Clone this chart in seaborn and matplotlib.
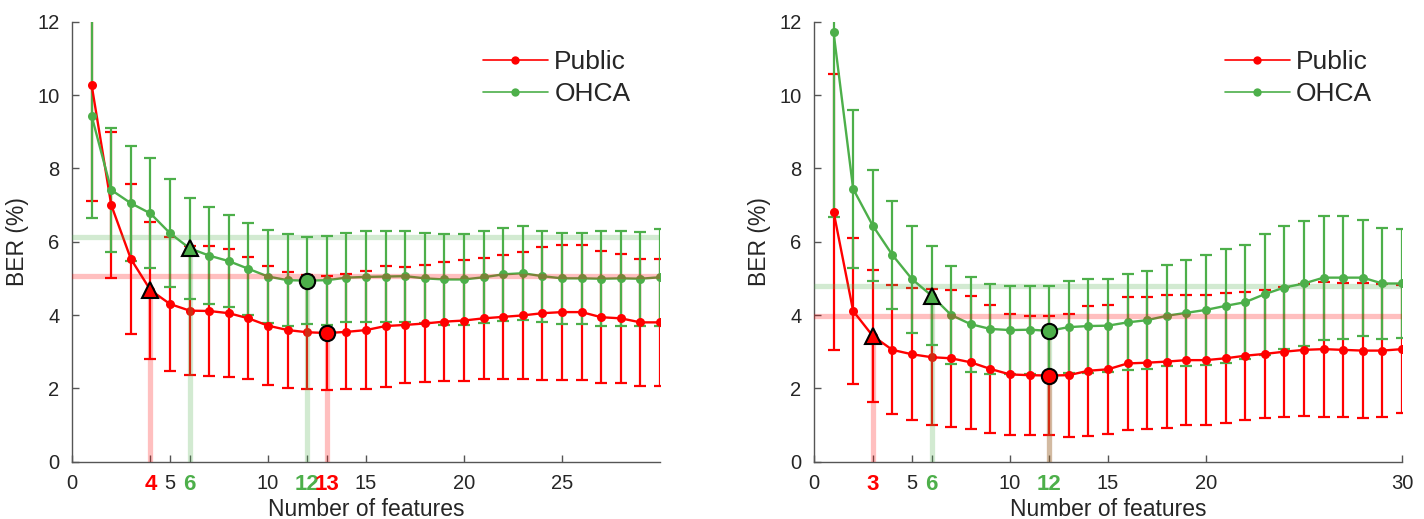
import matplotlib
matplotlib.use("Agg")
import matplotlib.pyplot as plt
from matplotlib.lines import Line2D
import seaborn as sns

# number of features on the x axis
n_features = list(range(1, 31))

# left panel: BER mean and std per number of features
left_public_mean = [10.27, 7.00, 5.53, 4.68, 4.30, 4.12, 4.11, 4.05, 3.91, 3.71,
                    3.59, 3.53, 3.51, 3.54, 3.59, 3.70, 3.73, 3.77, 3.82, 3.85,
                    3.91, 3.95, 3.99, 4.05, 4.08, 4.08, 3.94, 3.91, 3.80, 3.80]
left_public_std = [3.15, 1.98, 2.05, 1.87, 1.83, 1.76, 1.77, 1.74, 1.66, 1.62,
                   1.57, 1.56, 1.55, 1.57, 1.60, 1.65, 1.58, 1.60, 1.63, 1.65,
                   1.65, 1.69, 1.73, 1.81, 1.84, 1.84, 1.80, 1.75, 1.74, 1.74]
left_ohca_mean = [9.43, 7.41, 7.05, 6.77, 6.23, 5.82, 5.62, 5.47, 5.26, 5.05,
                  4.95, 4.94, 4.95, 5.02, 5.04, 5.05, 5.06, 5.00, 4.97, 4.97,
                  5.03, 5.11, 5.14, 5.06, 5.00, 5.00, 4.99, 5.00, 4.99, 5.03]
left_ohca_std = [2.79, 1.68, 1.57, 1.50, 1.47, 1.38, 1.32, 1.26, 1.26, 1.27,
                 1.25, 1.19, 1.21, 1.21, 1.24, 1.24, 1.24, 1.23, 1.25, 1.24,
                 1.26, 1.26, 1.28, 1.24, 1.25, 1.25, 1.30, 1.30, 1.28, 1.32]

# right panel
right_public_mean = [6.82, 4.11, 3.43, 3.05, 2.93, 2.85, 2.82, 2.71, 2.53, 2.38,
                     2.36, 2.35, 2.36, 2.48, 2.52, 2.68, 2.70, 2.73, 2.77, 2.77,
                     2.82, 2.89, 2.94, 3.00, 3.05, 3.07, 3.05, 3.03, 3.03, 3.07]
right_public_std = [3.76, 2.00, 1.80, 1.76, 1.80, 1.85, 1.87, 1.81, 1.74, 1.65,
                    1.62, 1.63, 1.68, 1.77, 1.76, 1.81, 1.80, 1.81, 1.77, 1.77,
                    1.77, 1.74, 1.74, 1.77, 1.80, 1.84, 1.83, 1.84, 1.82, 1.75]
right_ohca_mean = [11.71, 7.44, 6.44, 5.64, 4.98, 4.53, 4.00, 3.75, 3.62, 3.59,
                   3.60, 3.57, 3.67, 3.70, 3.71, 3.80, 3.86, 3.98, 4.06, 4.14,
                   4.25, 4.35, 4.57, 4.75, 4.86, 5.02, 5.02, 5.02, 4.86, 4.86]
right_ohca_std = [5.05, 2.15, 1.52, 1.47, 1.46, 1.35, 1.34, 1.29, 1.23, 1.20,
                  1.20, 1.22, 1.26, 1.27, 1.26, 1.31, 1.34, 1.38, 1.44, 1.51,
                  1.55, 1.56, 1.65, 1.67, 1.70, 1.69, 1.68, 1.58, 1.51, 1.49]

# chosen (triangle) and best (circle) number of features
left_public_sel, left_public_best = 4, 13
left_ohca_sel, left_ohca_best = 6, 12
right_public_sel, right_public_best = 3, 12
right_ohca_sel, right_ohca_best = 6, 12

left_xticks = [0, 4, 5, 6, 10, 12, 13, 15, 20, 25]
right_xticks = [0, 3, 5, 6, 10, 12, 15, 20, 30]
yticks = [0, 2, 4, 6, 8, 10, 12]

labels = ["Public", "OHCA"]
RED = "#ff0000"
GREEN = "#4daf4a"
AXIS_GREY = "#555555"


def draw_series(ax, mean, std, color):
    ax.errorbar(n_features, mean, yerr=std, fmt="none", ecolor=color,
                elinewidth=1.6, capsize=4.3, capthick=1.6, zorder=2)
    sns.lineplot(x=n_features, y=mean, color=color, marker="o", markersize=6.5,
                 markeredgewidth=0, linewidth=1.7, ax=ax, legend=False, zorder=3)


def draw_selection(ax, mean, std, sel, best, color):
    thr = mean[best - 1] + std[best - 1]
    ax.axhline(thr, color=color, alpha=0.25, linewidth=3.8, zorder=4)
    ax.vlines([sel, best], 0, [mean[sel - 1], mean[best - 1]], color=color,
              alpha=0.25, linewidth=3.8, zorder=4)
    ax.plot(sel, mean[sel - 1], marker="^", markersize=12, markerfacecolor=color,
            markeredgecolor="black", markeredgewidth=1.5, linestyle="none", zorder=6)
    ax.plot(best, mean[best - 1], marker="o", markersize=11, markerfacecolor=color,
            markeredgecolor="black", markeredgewidth=1.5, linestyle="none", zorder=6)


def style_axes(ax, xticks, red_ticks, green_ticks):
    ax.set_xlim(0, 30)
    ax.set_ylim(0, 12)
    ax.set_yticks(yticks)
    ax.set_xticks(xticks)
    ax.set_xticklabels([str(t) for t in xticks])
    sns.despine(ax=ax)
    for side in ["left", "bottom"]:
        ax.spines[side].set_color(AXIS_GREY)
        ax.spines[side].set_linewidth(1.0)
    ax.tick_params(direction="in", length=5, width=1, color=AXIS_GREY,
                   labelsize=14.5, labelcolor="#262626", pad=9)
    for lab, t in zip(ax.get_xticklabels(), xticks):
        if t in red_ticks or t in green_ticks:
            lab.set_color(RED if t in red_ticks else GREEN)
            lab.set_fontweight("bold")
            lab.set_fontsize(16)
    ax.set_xlabel("Number of features", fontsize=16.5, color="#262626", labelpad=2)
    ax.set_ylabel("BER (%)", fontsize=16.5, color="#262626", labelpad=6)
    handles = [Line2D([], [], color=RED, lw=1.2, marker="o", markersize=6, markeredgewidth=0),
               Line2D([], [], color=GREEN, lw=1.2, marker="o", markersize=6, markeredgewidth=0)]
    ax.legend(handles, labels, loc="upper left", bbox_to_anchor=(0.699, 0.935),
              frameon=False, fontsize=19, handlelength=2.45, handletextpad=0.25,
              labelspacing=0.3, borderpad=0, borderaxespad=0)


sns.set_theme(style="ticks")
plt.rcParams["font.family"] = ["Liberation Sans", "DejaVu Sans"]

fig = plt.figure(figsize=(14.24, 5.19), dpi=100)
ax_l = fig.add_axes([0.0506, 0.1104, 0.4129, 0.8478])
ax_r = fig.add_axes([0.5716, 0.1104, 0.4129, 0.8478])

draw_series(ax_l, left_public_mean, left_public_std, RED)
draw_series(ax_l, left_ohca_mean, left_ohca_std, GREEN)
draw_selection(ax_l, left_public_mean, left_public_std, left_public_sel, left_public_best, RED)
draw_selection(ax_l, left_ohca_mean, left_ohca_std, left_ohca_sel, left_ohca_best, GREEN)
style_axes(ax_l, left_xticks, [left_public_sel, left_public_best],
           [left_ohca_sel, left_ohca_best])

draw_series(ax_r, right_public_mean, right_public_std, RED)
draw_series(ax_r, right_ohca_mean, right_ohca_std, GREEN)
draw_selection(ax_r, right_public_mean, right_public_std, right_public_sel, right_public_best, RED)
draw_selection(ax_r, right_ohca_mean, right_ohca_std, right_ohca_sel, right_ohca_best, GREEN)
style_axes(ax_r, right_xticks, [right_public_sel],
           [right_ohca_sel, right_ohca_best])

fig.savefig("out.png", dpi=100)
